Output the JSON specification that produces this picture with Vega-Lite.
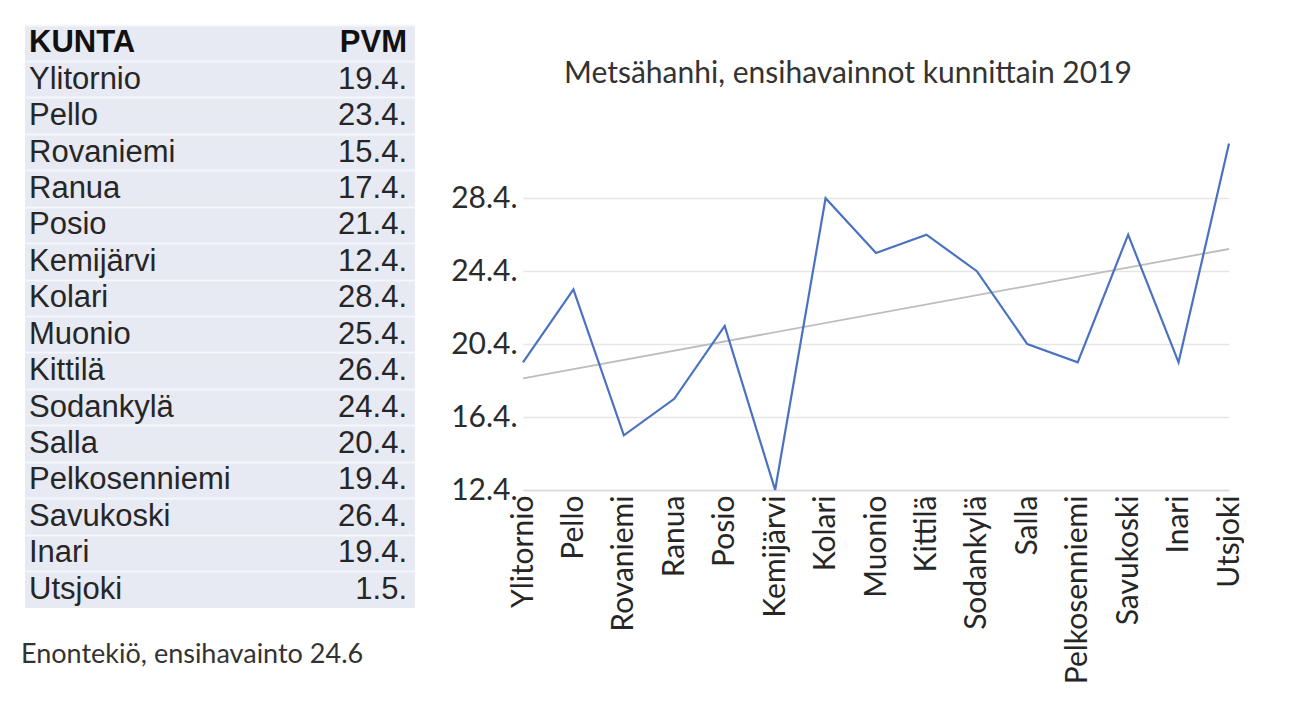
{
  "$schema": "https://vega.github.io/schema/vega-lite/v6.json",
  "background": "white",
  "padding": {"left": 21, "top": 25, "right": 0, "bottom": 0},
  "bounds": "flush",
  "spacing": 108,
  "config": {"view": {"stroke": null}, "font": "Lato"},
  "datasets": {
    "birds": [
      {"i": 1, "kunta": "Ylitornio", "pvm": "19.4.", "day": 19},
      {"i": 2, "kunta": "Pello", "pvm": "23.4.", "day": 23},
      {"i": 3, "kunta": "Rovaniemi", "pvm": "15.4.", "day": 15},
      {"i": 4, "kunta": "Ranua", "pvm": "17.4.", "day": 17},
      {"i": 5, "kunta": "Posio", "pvm": "21.4.", "day": 21},
      {"i": 6, "kunta": "Kemijärvi", "pvm": "12.4.", "day": 12},
      {"i": 7, "kunta": "Kolari", "pvm": "28.4.", "day": 28},
      {"i": 8, "kunta": "Muonio", "pvm": "25.4.", "day": 25},
      {"i": 9, "kunta": "Kittilä", "pvm": "26.4.", "day": 26},
      {"i": 10, "kunta": "Sodankylä", "pvm": "24.4.", "day": 24},
      {"i": 11, "kunta": "Salla", "pvm": "20.4.", "day": 20},
      {"i": 12, "kunta": "Pelkosenniemi", "pvm": "19.4.", "day": 19},
      {"i": 13, "kunta": "Savukoski", "pvm": "26.4.", "day": 26},
      {"i": 14, "kunta": "Inari", "pvm": "19.4.", "day": 19},
      {"i": 15, "kunta": "Utsjoki", "pvm": "1.5.", "day": 31}
    ]
  },
  "hconcat": [
    {
      "width": 390,
      "height": 583,
      "view": {"fill": "#e7e9f3", "stroke": null},
      "title": {"text": "Enontekiö, ensihavainto 24.6", "orient": "bottom", "anchor": "start", "offset": 34, "dx": -4, "fontSize": 27, "font": "Lato", "fontWeight": "normal", "color": "#333333"},
      "data": {"name": "birds"},
      "layer": [
        {
          "mark": {"type": "text", "align": "left", "dx": 4, "font": "Liberation Sans", "fontSize": 31, "color": "#262626"},
          "encoding": {
            "x": {"datum": "KUNTA", "type": "nominal", "scale": {"type": "point", "domain": ["KUNTA", "PVM"], "padding": 0}, "axis": null},
            "y": {"field": "i", "type": "ordinal", "scale": {"type": "band", "domain": [0,1,2,3,4,5,6,7,8,9,10,11,12,13,14,15], "paddingInner": 0, "paddingOuter": 0},
                  "axis": {"grid": true, "gridColor": "#f6f7fb", "gridWidth": 2, "bandPosition": 0, "labels": false, "ticks": false, "domain": false, "title": null}},
            "text": {"field": "kunta"}
          }
        },
        {
          "mark": {"type": "text", "align": "right", "dx": -8, "font": "Liberation Sans", "fontSize": 31, "color": "#262626"},
          "encoding": {
            "x": {"datum": "PVM", "type": "nominal"},
            "y": {"field": "i", "type": "ordinal"},
            "text": {"field": "pvm"}
          }
        },
        {
          "data": {"values": [{"h": "KUNTA"}]},
          "mark": {"type": "text", "align": "left", "dx": 4, "font": "Liberation Sans", "fontSize": 31, "fontWeight": "bold", "color": "#111111"},
          "encoding": {
            "x": {"field": "h", "type": "nominal"},
            "y": {"datum": 0, "type": "ordinal"},
            "text": {"field": "h"}
          }
        },
        {
          "data": {"values": [{"h": "PVM"}]},
          "mark": {"type": "text", "align": "right", "dx": -8, "font": "Liberation Sans", "fontSize": 31, "fontWeight": "bold", "color": "#111111"},
          "encoding": {
            "x": {"field": "h", "type": "nominal"},
            "y": {"datum": 0, "type": "ordinal"},
            "text": {"field": "h"}
          }
        }
      ]
    },
    {
      "width": 706,
      "height": 465,
      "title": {"text": "Metsähanhi, ensihavainnot kunnittain 2019", "anchor": "middle", "offset": -64, "dx": -28, "fontSize": 30, "font": "Lato", "fontWeight": "normal", "color": "#333333"},
      "data": {"name": "birds"},
      "layer": [
        {
          "transform": [{"regression": "day", "on": "i"}],
          "mark": {"type": "line", "color": "#bdbdbd", "strokeWidth": 1.8},
          "encoding": {
            "x": {"field": "i", "type": "quantitative", "scale": {"domain": [1, 15], "nice": false, "zero": false}, "axis": null},
            "y": {"field": "day", "type": "quantitative", "scale": {"domain": [12, 37.5], "nice": false, "zero": false},
                  "axis": {"values": [12, 16, 20, 24, 28], "labelExpr": "datum.value + '.4.'", "grid": true, "gridColor": "#e6e6e6", "gridWidth": 1.5, "ticks": false, "domain": false, "title": null, "labelFont": "Lato", "labelFontSize": 30, "labelColor": "#2b2b2b", "labelPadding": 6}}
          }
        },
        {
          "mark": {"type": "line", "color": "#4a72c0", "strokeWidth": 2.2},
          "encoding": {
            "x": {"field": "kunta", "type": "nominal", "sort": null, "scale": {"type": "point", "padding": 0},
                  "axis": {"labelAngle": -90, "labelFont": "Lato", "labelFontSize": 30, "labelColor": "#262626", "labelPadding": 5, "labelLimit": 400, "ticks": false, "domain": true, "domainColor": "#d9d9d9", "domainWidth": 1.5, "title": null, "grid": false}},
            "y": {"field": "day", "type": "quantitative"}
          }
        }
      ],
      "resolve": {"scale": {"x": "independent"}, "axis": {"x": "independent"}}
    }
  ]
}
